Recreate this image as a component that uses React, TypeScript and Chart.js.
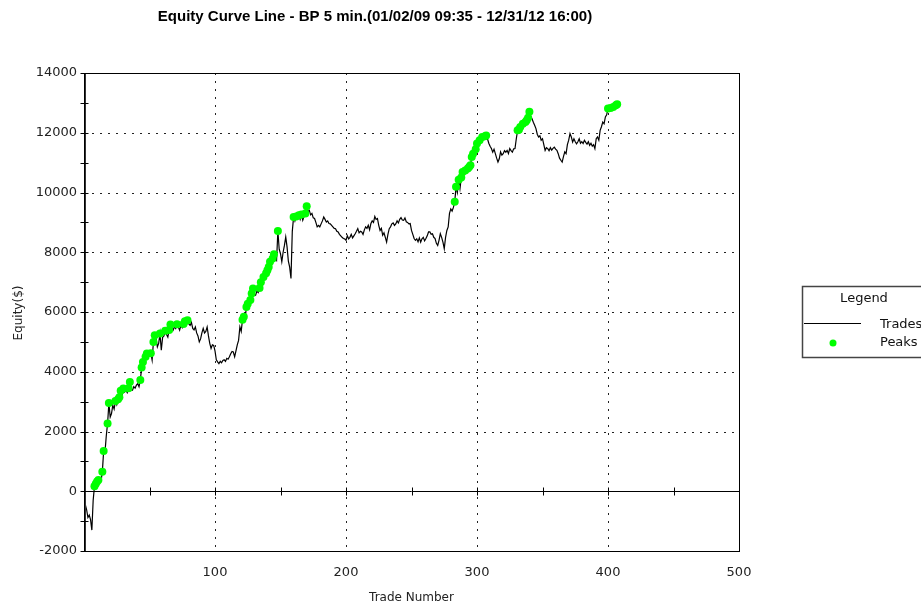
import React, { useEffect, useRef } from "react";
import { Chart, registerables } from "chart.js";

Chart.register(...registerables);

const chartTitle = "Equity Curve Line - BP 5 min.(01/02/09 09:35 - 12/31/12 16:00)";
const xAxisTitle = "Trade Number";
const yAxisTitle = "Equity($)";
const legendTitle = "Legend";
const seriesNames = ["Trades", "Peaks"];

// equity after each trade, trade 1..409
const equity = [
  -450, -620, -880, -800, -950, -1300, -300, 170, 250, 330,
  380, 300, 340, 650, 1350, 1300, 1850, 2270, 2950, 2480,
  2600, 2880, 2750, 3020, 2900, 3080, 3150, 3360, 3210, 3440,
  3320, 3380, 3300, 3450, 3660, 3400, 3380, 3500, 3450, 3550,
  3600, 3500, 3720, 4140, 4330, 4270, 4500, 4610, 4480, 4550,
  4620, 4390, 5000, 5220, 5100, 4830, 4950, 5280, 4720, 5150,
  5200, 5370, 5250, 5160, 5400, 5580, 5450, 5390, 5500, 5450,
  5590, 5500, 5390, 5550, 5480, 5600, 5690, 5620, 5720, 5600,
  5550, 5650, 5450, 5400, 5500, 5300, 5200, 5000, 5100, 5300,
  5450, 5300, 5350, 5500, 5200, 4950, 4780, 4900, 4880, 4700,
  4400, 4330, 4270, 4350, 4300, 4380, 4400, 4350, 4450, 4420,
  4500, 4600, 4680, 4660, 4500, 4700, 4900, 5050, 5500, 5350,
  5740, 5840, 5800, 6170, 6280, 6250, 6400, 6620, 6790, 6600,
  6560, 6700, 6650, 6800, 7000, 6900, 7170, 7100, 7300, 7400,
  7510, 7680, 7600, 7790, 7930, 7800, 7730, 8710, 8100, 7950,
  7680, 8000, 8230, 8510, 8180, 7700, 7500, 7120, 8700, 9180,
  9050, 9200, 9150, 9240, 9100, 9260, 9070, 9200, 9300, 9540,
  9350, 9400, 9250, 9300, 9150, 9130, 9000, 8850, 8900, 8850,
  8950, 9050, 9180, 9100, 9010, 9050, 8960, 8950, 8900, 8850,
  8800, 8790, 8700, 8680, 8600, 8550, 8500, 8460, 8450, 8400,
  8550, 8450, 8500, 8600, 8480, 8550, 8620, 8700, 8790, 8650,
  8700, 8680, 8600, 8750, 8850, 8800, 8900, 8750, 8960, 9050,
  9000, 9200, 9100, 9130, 8900, 8730, 8800, 8570, 8650, 8500,
  8340, 8600, 8790, 8850, 8950, 8980, 8900, 8950, 9050, 8980,
  9100, 9160, 9080, 9070, 9150, 9020, 9000, 8950, 8960, 8730,
  8600, 8460, 8400, 8450, 8350, 8480, 8340, 8450, 8500, 8380,
  8460, 8550, 8680, 8680, 8600, 8620, 8500, 8460, 8300, 8230,
  8400, 8620, 8500, 8340, 8120, 8500, 8730, 8850, 9300, 9450,
  9380, 9500, 9690, 10190, 10000, 10430, 10130, 10500, 10690, 10600,
  10740, 10700, 10800, 10850, 10910, 11190, 11300, 11200, 11450, 11640,
  11550, 11750, 11700, 11860, 11800, 11880, 11910, 11800, 11650, 11550,
  11470, 11350, 11450, 11300, 11150, 11020, 11130, 11360, 11250, 11300,
  11400, 11350, 11410, 11300, 11470, 11400, 11350, 11460, 11470, 11800,
  12080, 12100, 12190, 12150, 12300, 12280, 12360, 12420, 12500, 12700,
  12550, 12470, 12350, 12250, 12140, 11950, 11860, 11900, 11750, 11800,
  11600, 11410, 11500, 11470, 11400, 11500, 11420, 11480, 11520, 11450,
  11410, 11300, 11150, 11080, 11020, 11200, 11360, 11300, 11600, 11750,
  11970, 11860, 11690, 11800, 11700, 11630, 11700, 11800, 11650, 11700,
  11640, 11750, 11680, 11620, 11700, 11580, 11650, 11550, 11600, 11470,
  11800, 11860, 11750, 12080, 12200, 12360, 12300, 12530, 12600, 12810,
  12750, 12830, 12800, 12860, 12820, 12920, 12950, 12900, 12870,
];

// trade numbers marked as equity peaks
const peakTrades = [
  8, 9, 10, 11, 14, 15, 18, 19, 24, 26, 27, 28, 30, 34, 35, 43, 44, 45, 47, 48,
  51, 53, 54, 58, 62, 65, 66, 71, 76, 77, 79, 121, 122, 124, 125, 127, 128, 129,
  134, 135, 137, 139, 140, 141, 142, 144, 145, 148, 160, 162, 164, 166, 169, 170,
  283, 284, 286, 288, 289, 291, 293, 294, 295, 296, 297, 299, 300, 302, 304, 306,
  307, 331, 332, 333, 335, 337, 338, 339, 340, 400, 402, 404, 406, 407,
];

const xTicks = [0, 100, 200, 300, 400, 500];
const yTicks = [-2000, 0, 2000, 4000, 6000, 8000, 10000, 12000, 14000];
const xGrid = [100, 200, 300, 400];
const yGrid = [2000, 4000, 6000, 8000, 10000, 12000];
const xMinorTicks = [50, 100, 150, 200, 250, 300, 350, 400, 450];
const yMinorTicks = [-2000, -1000, 0, 1000, 2000, 3000, 4000, 5000, 6000, 7000, 8000, 9000, 10000, 11000, 12000, 13000, 14000];

const FONT = "'DejaVu Sans', Verdana, sans-serif";
const TITLE_FONT = "'Liberation Sans', Arial, sans-serif";
const GREEN = "#00ff00";

const decorPlugin = {
  id: "decor",
  beforeDatasetsDraw(chart: any) {
    const { ctx, chartArea: a, scales } = chart;
    const x = scales.x;
    const y = scales.y;
    ctx.save();
    ctx.strokeStyle = "#222";
    ctx.lineWidth = 1;
    ctx.setLineDash([2, 6]);
    for (const v of xGrid) {
      const px = Math.round(x.getPixelForValue(v)) + 0.5;
      ctx.beginPath();
      ctx.moveTo(px, a.top);
      ctx.lineTo(px, a.bottom);
      ctx.stroke();
    }
    for (const v of yGrid) {
      const py = Math.round(y.getPixelForValue(v)) + 0.5;
      ctx.beginPath();
      ctx.moveTo(a.left, py);
      ctx.lineTo(a.right, py);
      ctx.stroke();
    }
    ctx.setLineDash([]);
    ctx.strokeStyle = "#000";
    const zy = Math.round(y.getPixelForValue(0)) + 0.5;
    ctx.beginPath();
    ctx.moveTo(a.left, zy);
    ctx.lineTo(a.right, zy);
    ctx.stroke();
    ctx.restore();
  },
  afterDraw(chart: any) {
    const { ctx, chartArea: a, scales } = chart;
    const x = scales.x;
    const y = scales.y;
    ctx.save();
    // frame
    ctx.strokeStyle = "#000";
    ctx.lineWidth = 1;
    ctx.strokeRect(Math.round(a.left) + 0.5, Math.round(a.top) + 0.5, Math.round(a.right - a.left), Math.round(a.bottom - a.top));
    ctx.strokeStyle = "#333";
    ctx.beginPath();
    ctx.moveTo(Math.round(a.left) + 1.5, a.top);
    ctx.lineTo(Math.round(a.left) + 1.5, a.bottom);
    ctx.stroke();
    ctx.strokeStyle = "#000";
    // y axis crosses
    const lx = Math.round(a.left) + 0.5;
    for (const v of yMinorTicks) {
      const py = Math.round(y.getPixelForValue(v)) + 0.5;
      ctx.beginPath();
      ctx.moveTo(lx - 4, py);
      ctx.lineTo(lx + 4, py);
      ctx.stroke();
    }
    // x axis crosses on zero line
    const zy = Math.round(y.getPixelForValue(0)) + 0.5;
    for (const v of xMinorTicks) {
      const px = Math.round(x.getPixelForValue(v)) + 0.5;
      ctx.beginPath();
      ctx.moveTo(px, zy - 4);
      ctx.lineTo(px, zy + 4);
      ctx.stroke();
    }
    // title
    ctx.fillStyle = "#000";
    ctx.font = `bold 15px ${TITLE_FONT}`;
    ctx.textAlign = "center";
    ctx.textBaseline = "middle";
    ctx.fillText(chartTitle, 375, 17);
    // axis titles
    ctx.fillStyle = "#222";
    ctx.font = `12px ${FONT}`;
    ctx.fillText(xAxisTitle, (a.left + a.right) / 2, 598);
    ctx.save();
    ctx.translate(19, 313);
    ctx.rotate(-Math.PI / 2);
    ctx.fillText(yAxisTitle, 0, 0);
    ctx.restore();
    // legend box
    ctx.strokeStyle = "#444";
    ctx.lineWidth = 1.5;
    ctx.strokeRect(802.5, 286.5, 200, 71);
    ctx.fillStyle = "#111";
    ctx.font = `13px ${FONT}`;
    ctx.textAlign = "center";
    ctx.fillText(legendTitle, 864, 299);
    ctx.strokeStyle = "#000";
    ctx.lineWidth = 1;
    ctx.beginPath();
    ctx.moveTo(804, 323.5);
    ctx.lineTo(861, 323.5);
    ctx.stroke();
    ctx.fillStyle = GREEN;
    ctx.beginPath();
    ctx.arc(833, 343, 3.5, 0, Math.PI * 2);
    ctx.fill();
    ctx.fillStyle = "#111";
    ctx.textAlign = "left";
    ctx.fillText(seriesNames[0], 880, 325);
    ctx.fillText(seriesNames[1], 880, 343);
    ctx.restore();
  },
};

export default function App() {
  const ref = useRef<HTMLCanvasElement | null>(null);
  useEffect(() => {
    if (!ref.current) return;
    const lineData = equity.map((v, i) => ({ x: i + 1, y: v }));
    const peakData = peakTrades.map((t) => ({ x: t, y: equity[t - 1] }));
    const chart = new Chart(ref.current, {
      type: "line",
      data: {
        datasets: [
          {
            label: seriesNames[1],
            data: peakData,
            showLine: false,
            pointRadius: 4,
            pointBackgroundColor: GREEN,
            pointBorderWidth: 0,
            borderWidth: 0,
            backgroundColor: GREEN,
            order: 0,
          },
          {
            label: seriesNames[0],
            data: lineData,
            borderColor: "#000",
            borderWidth: 1.2,
            pointRadius: 0,
            tension: 0,
            fill: false,
            order: 1,
          },
        ],
      },
      options: {
        animation: false,
        responsive: false,
        devicePixelRatio: 1,
        layout: { padding: { top: 73, right: 182, left: 0, bottom: 0 } },
        plugins: { legend: { display: false }, title: { display: false }, tooltip: { enabled: false } },
        scales: {
          x: {
            type: "linear",
            min: 0,
            max: 500,
            afterBuildTicks: (s: any) => {
              s.ticks = xTicks.map((v) => ({ value: v }));
            },
            afterFit: (s: any) => {
              s.height = 56;
            },
            grid: { display: false, drawTicks: false },
            border: { display: false },
            ticks: {
              padding: 14,
              maxRotation: 0,
              autoSkip: false,
              color: "#222",
              font: { family: FONT, size: 13 },
              callback: (v: any) => (v === 0 ? "" : String(v)),
            },
          },
          y: {
            type: "linear",
            min: -2000,
            max: 14000,
            afterBuildTicks: (s: any) => {
              s.ticks = yTicks.map((v) => ({ value: v }));
            },
            afterFit: (s: any) => {
              s.width = 84;
            },
            grid: { display: false, drawTicks: false },
            border: { display: false },
            ticks: {
              padding: 7,
              autoSkip: false,
              color: "#222",
              font: { family: FONT, size: 13 },
              callback: (v: any) => String(v),
            },
          },
        },
      },
      plugins: [decorPlugin],
    });
    return () => chart.destroy();
  }, []);
  return (
    <div style={{ position: "fixed", left: 0, top: 0, width: 921, height: 607, background: "#fff" }}>
      <canvas ref={ref} width={921} height={607} style={{ width: 921, height: 607, display: "block" }} />
    </div>
  );
}
